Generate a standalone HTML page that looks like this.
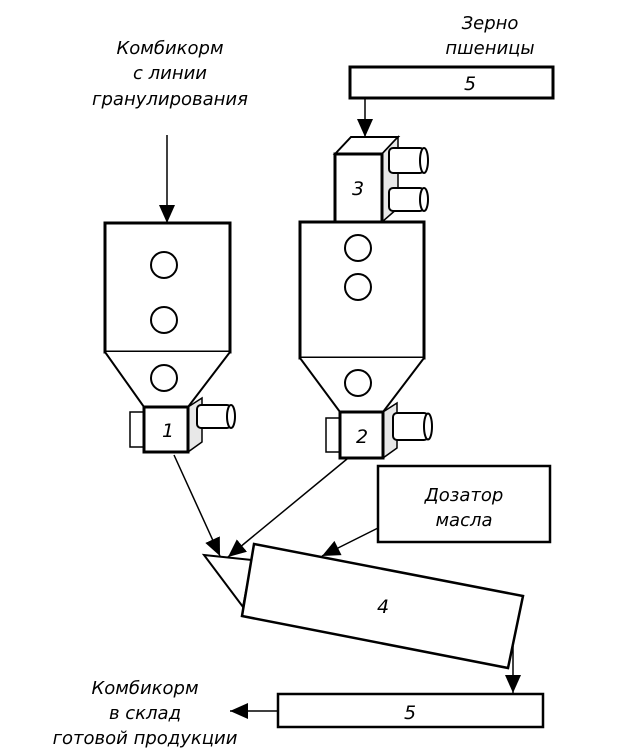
<!DOCTYPE html>
<html><head><meta charset="utf-8"><style>
html,body{margin:0;padding:0;background:#fff;}
svg{display:block}
text{font-family:"DejaVu Sans","Liberation Sans",sans-serif;font-style:italic;fill:#000;}
</style></head><body>
<svg width="619" height="754" viewBox="0 0 619 754" xmlns="http://www.w3.org/2000/svg">
<defs>
<marker id="b" markerWidth="18" markerHeight="16" refX="18" refY="8" orient="auto" markerUnits="userSpaceOnUse">
<path d="M0,0 L18,8 L0,16 Z" fill="#000"/></marker>
</defs>
<g fill="#fff" stroke="#000">
<rect x="350" y="67" width="203" height="31" stroke-width="3"/>
<rect x="105" y="223" width="125" height="129" stroke-width="3"/>
<path d="M105,352 L144,407 L188,407 L230,352" stroke-width="2"/>
<rect x="130" y="412" width="14" height="35" stroke-width="1.5"/>
<path d="M188,407 L202,398 L202,442 L188,452 Z" fill="#e8e8e8" stroke-width="1.5"/>
<rect x="197" y="405" width="34" height="23" rx="4" stroke-width="2"/>
<ellipse cx="231" cy="416.5" rx="4" ry="11.5" stroke-width="2"/>
<rect x="144" y="407" width="44" height="45" stroke-width="3"/>
<circle cx="164" cy="265" r="13" stroke-width="2"/>
<circle cx="164" cy="320" r="13" stroke-width="2"/>
<circle cx="164" cy="378" r="13" stroke-width="2"/>
<path d="M335,154 L351,137 L398,137 L382,154 Z" stroke-width="2"/>
<path d="M382,154 L398,137 L398,208 L382,222 Z" fill="#e8e8e8" stroke-width="1.5"/>
<rect x="389" y="148" width="35" height="25" rx="4" stroke-width="2"/>
<ellipse cx="424" cy="160.5" rx="4" ry="12.5" stroke-width="2"/>
<rect x="389" y="188" width="35" height="23" rx="4" stroke-width="2"/>
<ellipse cx="424" cy="199.5" rx="4" ry="11.5" stroke-width="2"/>
<rect x="335" y="154" width="47" height="68" stroke-width="3"/>
<rect x="300" y="222" width="124" height="136" stroke-width="3"/>
<path d="M300,358 L340,412 L383,412 L424,358" stroke-width="2"/>
<rect x="326" y="418" width="14" height="34" stroke-width="1.5"/>
<path d="M383,412 L397,403 L397,448 L383,458 Z" fill="#e8e8e8" stroke-width="1.5"/>
<rect x="393" y="413" width="35" height="27" rx="4" stroke-width="2"/>
<ellipse cx="428" cy="426.5" rx="4" ry="13" stroke-width="2"/>
<rect x="340" y="412" width="43" height="46" stroke-width="3"/>
<circle cx="358" cy="248" r="13" stroke-width="2"/>
<circle cx="358" cy="287" r="13" stroke-width="2"/>
<circle cx="358" cy="383" r="13" stroke-width="2"/>
<rect x="378" y="466" width="172" height="76" stroke-width="2.5"/>
<path d="M204,555 L252,560 L243,607 Z" stroke-width="2"/>
<path d="M254,544 L523,596 L508,668 L242,616 Z" stroke-width="2.5"/>
<rect x="278" y="694" width="265" height="33" stroke-width="2.5"/>
</g>
<g stroke="#000" stroke-width="1.5" fill="none">
<line x1="167" y1="135" x2="167" y2="223" marker-end="url(#b)"/>
<line x1="365" y1="98" x2="365" y2="137" marker-end="url(#b)"/>
<line x1="174" y1="455" x2="220" y2="556" marker-end="url(#b)"/>
<line x1="347" y1="459" x2="228" y2="557" marker-end="url(#b)"/>
<line x1="378" y1="528" x2="322" y2="556" marker-end="url(#b)"/>
<line x1="513" y1="646" x2="513" y2="693" marker-end="url(#b)"/>
<line x1="278" y1="711" x2="230" y2="711" marker-end="url(#b)"/>
</g>
<g font-size="18" text-anchor="middle">
<text x="170" y="54">Комбикорм</text>
<text x="170" y="79">с линии</text>
<text x="170" y="105">гранулирования</text>
<text x="490" y="29">Зерно</text>
<text x="490" y="54">пшеницы</text>
<text x="145" y="694">Комбикорм</text>
<text x="145" y="719">в склад</text>
<text x="145" y="744">готовой продукции</text>
<text x="464" y="501">Дозатор</text>
<text x="464" y="526">масла</text>
</g>
<g font-size="19" text-anchor="middle">
<text x="470" y="90">5</text>
<text x="358" y="195">3</text>
<text x="168" y="437">1</text>
<text x="362" y="443">2</text>
<text x="383" y="613">4</text>
<text x="410" y="719">5</text>
</g>
</svg>
</body></html>
